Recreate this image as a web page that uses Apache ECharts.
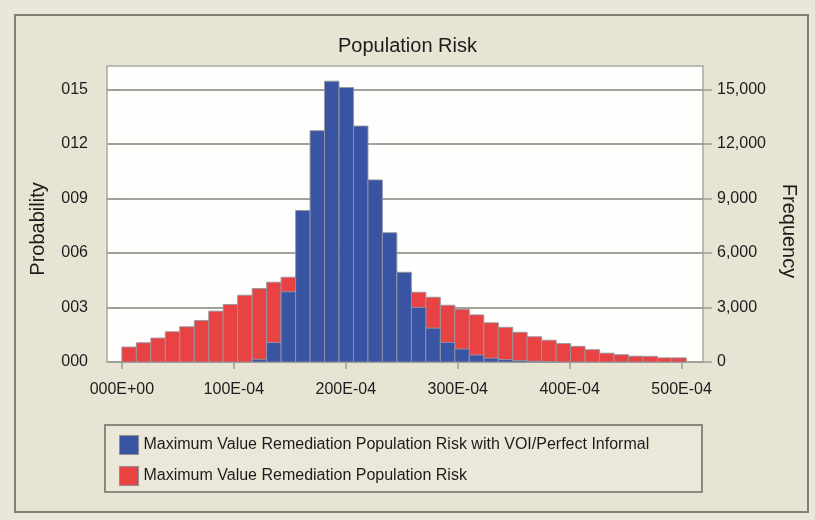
<!DOCTYPE html>
<html>
<head>
<meta charset="utf-8">
<title>Population Risk</title>
<script src="https://cdn.jsdelivr.net/npm/echarts@6/dist/echarts.min.js"></script>
<style>
  html, body { margin: 0; padding: 0; background: #EAE7DA; }
  #chart { width: 815px; height: 520px; }
</style>
</head>
<body>
<div id="chart"></div>
<script>
// Histogram bins: lower edge of each bin, in units of 1E-04
const binStart = [
  0.000, 0.129, 0.259, 0.388, 0.517, 0.647, 0.776, 0.905, 1.034, 1.164,
  1.293, 1.422, 1.552, 1.681, 1.810, 1.940, 2.069, 2.198, 2.327, 2.457,
  2.586, 2.715, 2.845, 2.974, 3.103, 3.233, 3.362, 3.491, 3.620, 3.750,
  3.879, 4.008, 4.138, 4.267, 4.396, 4.526, 4.655, 4.784, 4.913
];
const binWidth = 0.1293;

// Frequencies per bin (100,000 trials)
const riskFreq = [
  823, 1061, 1318, 1665, 1940, 2288, 2800, 3166, 3678, 4044,
  4392, 4667, 4850, 4950, 4950, 4850, 4700, 4500, 4300, 4080,
  3840, 3565, 3125, 2905, 2595, 2157, 1910, 1636, 1390, 1198,
  1015, 860, 676, 485, 400, 320, 310, 228, 228
];
const riskVoiFreq = [
  0, 0, 0, 0, 0, 0, 0, 0, 0, 150,
  1070, 3870, 8345, 12737, 15463, 15116, 12993, 10028, 7119, 4941,
  3005, 1865, 1080, 715, 385, 210, 137, 85, 45, 20,
  0, 0, 0, 0, 0, 0, 0, 0, 0
];

const seriesNames = [
  'Maximum Value Remediation Population Risk with VOI/Perfect Informal',
  'Maximum Value Remediation Population Risk'
];

// Axis ticks and their labels
const xTickValues = [0, 1, 2, 3, 4, 5];
const xTickLabels = ['000E+00', '100E-04', '200E-04', '300E-04', '400E-04', '500E-04'];
const probTickValues = [0, 0.03, 0.06, 0.09, 0.12, 0.15];
const probTickLabels = ['000', '003', '006', '009', '012', '015'];
const freqTickValues = [0, 3000, 6000, 9000, 12000, 15000];

const BLUE = '#3A54A4';
const RED = '#E84242';
const TEXT = '#1c1c1c';
const FONT = 'Liberation Sans, Arial, sans-serif';

function histogramSeries(name, freqs, color) {
  return {
    name: name,
    type: 'custom',
    xAxisIndex: 0,
    yAxisIndex: 1,
    itemStyle: { color: color },
    encode: { x: 0, y: 1 },
    data: binStart.map((x, i) => [x, freqs[i]]),
    renderItem: function (params, api) {
      const x0 = api.value(0);
      const v = api.value(1);
      if (!v) return null;
      const topLeft = api.coord([x0, v]);
      const bottomRight = api.coord([x0 + binWidth, 0]);
      return {
        type: 'rect',
        shape: {
          x: topLeft[0],
          y: topLeft[1],
          width: bottomRight[0] - topLeft[0],
          height: bottomRight[1] - topLeft[1]
        },
        style: { fill: color, stroke: 'rgba(150,150,160,0.9)', lineWidth: 1 }
      };
    }
  };
}

const chart = echarts.init(document.getElementById('chart'), null, { renderer: 'canvas' });

chart.setOption({
  backgroundColor: '#EAE7DA',
  animation: false,
  title: {
    text: 'Population Risk',
    left: 'center',
    top: 31,
    textStyle: { fontFamily: FONT, fontSize: 20, fontWeight: 'normal', color: TEXT }
  },
  graphic: [
    {
      type: 'rect', z: -10,
      shape: { x: 15, y: 15, width: 793, height: 497 },
      style: { fill: '#E8E4D3', stroke: '#827f72', lineWidth: 2 }
    },
    {
      type: 'rect', z: -5,
      shape: { x: 105, y: 425, width: 597, height: 67 },
      style: { fill: '#EBE8DA', stroke: '#8a877b', lineWidth: 2 }
    },
    {
      type: 'text',
      x: 38, y: 229, rotation: Math.PI / 2,
      style: {
        text: 'Probability', fontSize: 20, fill: TEXT, fontFamily: FONT,
        align: 'center', verticalAlign: 'middle'
      }
    },
    {
      type: 'text',
      x: 789, y: 231, rotation: -Math.PI / 2,
      style: {
        text: 'Frequency', fontSize: 20, fill: TEXT, fontFamily: FONT,
        align: 'center', verticalAlign: 'middle'
      }
    }
  ],
  legend: {
    orient: 'vertical',
    left: 114,
    top: 430,
    itemWidth: 19,
    itemHeight: 19,
    itemGap: 11,
    icon: 'rect',
    itemStyle: { borderColor: '#8d8d95', borderWidth: 1 },
    textStyle: { fontFamily: FONT, fontSize: 16, color: TEXT },
    data: seriesNames
  },
  grid: {
    left: 107, right: 112, top: 66, bottom: 158,
    show: true,
    backgroundColor: '#FEFEFC',
    borderColor: '#aaa8a0',
    borderWidth: 1.5
  },
  xAxis: {
    type: 'value',
    min: -0.133,
    max: 5.191,
    axisLine: { show: false },
    splitLine: { show: false },
    axisTick: {
      show: true, length: 7, customValues: xTickValues,
      lineStyle: { color: '#9e9c94', width: 1.5 }
    },
    axisLabel: {
      customValues: xTickValues,
      margin: 20,
      fontSize: 16,
      color: TEXT,
      fontFamily: FONT,
      formatter: v => xTickLabels[xTickValues.indexOf(Math.round(v))]
    }
  },
  yAxis: [
    {
      type: 'value',
      position: 'left',
      min: 0,
      max: 0.163,
      axisLine: { show: false },
      axisTick: {
        show: true, length: 9, customValues: probTickValues,
        lineStyle: { color: '#9e9c94', width: 1.5 }
      },
      splitLine: { show: true, lineStyle: { color: '#a3a19a', width: 2 } },
      axisLabel: {
        customValues: probTickValues,
        margin: 19,
        fontSize: 16,
        color: TEXT,
        fontFamily: FONT,
        formatter: v => probTickLabels[probTickValues.findIndex(t => Math.abs(t - v) < 1e-6)]
      }
    },
    {
      type: 'value',
      position: 'right',
      min: 0,
      max: 16300,
      axisLine: { show: false },
      axisTick: {
        show: true, length: 9, customValues: freqTickValues,
        lineStyle: { color: '#9e9c94', width: 1.5 }
      },
      splitLine: { show: false },
      axisLabel: {
        customValues: freqTickValues,
        margin: 14,
        fontSize: 16,
        color: TEXT,
        fontFamily: FONT,
        formatter: v => v.toLocaleString('en-US')
      }
    }
  ],
  series: [
    histogramSeries(seriesNames[1], riskFreq, RED),
    histogramSeries(seriesNames[0], riskVoiFreq, BLUE)
  ]
});
</script>
</body>
</html>
